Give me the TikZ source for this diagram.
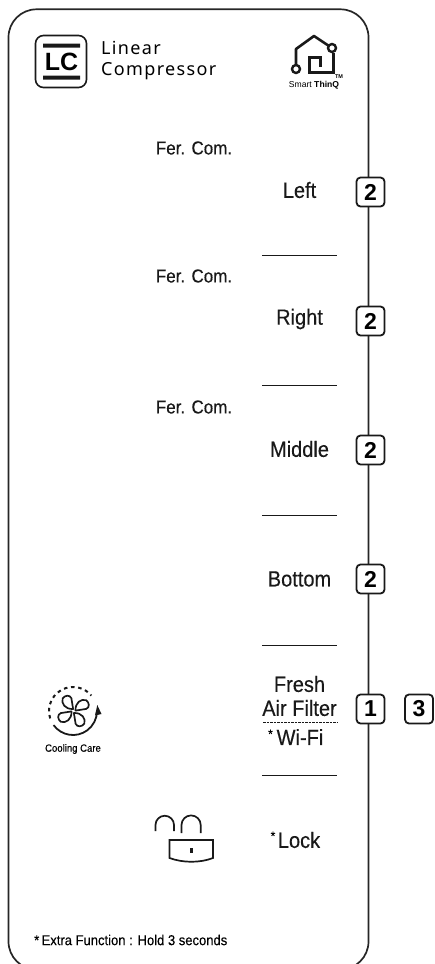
\documentclass[tikz,border=0pt]{standalone}
\usepackage{fontspec}
\setmainfont[FakeStretch=0.91,FakeBold=0.3]{Liberation Sans}
\newfontfamily\spaced[LetterSpace=7.5]{Noto Sans}
\newfontfamily\plain{Liberation Sans}
\tikzset{x=1pt,y=-1pt,
 ic/.style={line width=1.7pt,black!90},
 lab/.style={inner sep=0pt,text=black!90,font=\fontsize{22}{24}\selectfont},
 fer/.style={lab,font=\fontsize{18.7}{20}\selectfont},
 star/.style={inner sep=0pt,font=\fontsize{13}{13}\selectfont},
 numbox/.style={draw=black!90,line width=1.8pt,fill=white,rounded corners=4pt,minimum width=28pt,minimum height=29pt,inner sep=0pt,font=\plain\fontsize{23}{24}\selectfont\bfseries},
 sep/.style={line width=0.8pt,black!90}}
\begin{document}
\begin{tikzpicture}
\useasboundingbox (0,0) rectangle (434,964);
\clip (0,0) rectangle (434,964);
\draw[line width=1.7pt,black!85,rounded corners=28pt] (8.5,100) -- (8.5,9.3) -- (368.5,9.3) -- (368.5,969.5) -- (8.5,969.5) -- cycle;
% Header: LC
\node[draw=black!90,line width=1.6pt,rounded corners=8pt,minimum width=51pt,minimum height=52pt,inner sep=0pt] (lcbox) at (61,61.5) {};
\fill[black!90] (43,43.5) rectangle (80,47.5) (43,75.5) rectangle (80,79.5);
\node[inner sep=0pt,font=\plain\fontsize{25}{25}\selectfont\bfseries] (lc) at (61.5,61.5) {LC};
\node[anchor=west,inner sep=0pt,font=\spaced\fontsize{18}{18}\selectfont] (linear) at (101,48) {Linear};
\node[anchor=west,inner sep=0pt,font=\spaced\fontsize{18}{18}\selectfont] (compressor) at (101,71) {Compressor};
% ThinQ
\draw[line width=2.6pt,black!90,line join=round] (296,65) -- (296,49) -- (314,36) -- (329,46);
\draw[line width=3pt,black!90,line join=miter] (333,53) -- (333,72) -- (309,72) -- (309,57) -- (320,57) -- (320,67);
\draw[line width=2.4pt,black!90] (296,69) circle (4pt) (332,48) circle (4pt);
\node[inner sep=0pt,font=\plain\fontsize{8.6}{9}\selectfont] (thinq) at (314,85) {Smart \textbf{ThinQ}};
\node[inner sep=0pt,font=\plain\fontsize{5.5}{6}\selectfont\bfseries] (tm) at (339,77) {TM};
% Labels
\node[fer] (fc1) at (194,148) {Fer. Com.};
\node[fer] (fc2) at (194,276) {Fer. Com.};
\node[fer] (fc3) at (194,407) {Fer. Com.};
\node[lab] (left) at (299.5,190) {Left};
\node[lab] (right) at (299.5,319) {Right};
\node[lab] (middle) at (299.5,449) {Middle};
\node[lab] (bottom) at (299.5,579) {Bottom};
\node[lab] (fresh) at (299.5,684) {Fresh};
\node[lab] (air) at (299.5,708) {Air Filter};
\node[lab] (wifi) at (300,737) {Wi-Fi};
\node[star] (wifistar) at (270.5,734) {*};
\node[lab] (lock) at (299,840) {Lock};
\node[star] (lockstar) at (273,836) {*};
% dividers
\foreach \yy in {255.5,385,515,645,775} \draw[sep] (262,\yy) -- (337,\yy);
\draw[sep,dash pattern=on 2.5pt off 1pt] (263,722) -- (337,722);
% number boxes
\node[numbox] (n1) at (370.5,192) {2};
\node[numbox] (n2) at (370.5,321) {2};
\node[numbox] (n3) at (370.5,450) {2};
\node[numbox] (n4) at (370.5,579) {2};
\node[numbox] (n5) at (370.5,709) {1};
\node[numbox] (n6) at (419,709) {3};
% Cooling care
\begin{scope}[shift={(73,711)},y=1pt]
\draw[line width=2pt,black!90,dash pattern=on 3.5pt off 3.7pt] (198:24) arc (198:40:24);
\draw[line width=1.8pt,black!90] (216:24) arc (216:360:24) ;
\end{scope}
\fill[black!90] (95,715.5) -- (101.5,714) -- (97.3,705) -- cycle;
\begin{scope}[shift={(73.5,711)}]
\foreach \a in {25,115,205,295}
 \draw[line width=1.7pt,black!90,rotate=\a,line join=round] (2,0.5) .. controls (5,-7) and (12,-8) .. (16,-4.5) .. controls (18,-1) and (16.5,3.5) .. (12.5,3.5) -- cycle;
\end{scope}
\node[inner sep=0pt,font=\fontsize{10.5}{12}\selectfont] (cool) at (73,749) {Cooling Care};
% Lock
\begin{scope}[shift={(0,825)},y=1pt]
\draw[ic] (155.5,-6) -- (155.5,0) arc (180:0:9.25) -- (174,-6);
\draw[ic] (181.5,-8) -- (181.5,0) arc (180:0:9.6) -- (200.7,-8);
\end{scope}
\draw[ic,line join=miter] (169.5,840) -- (213,840) -- (213,858) .. controls (200,863) and (183,863) .. (169.5,858) -- cycle;
\fill[black!90] (189.5,848) rectangle (192.5,853);
% Footer
\node[anchor=west,inner sep=0pt,font=\fontsize{14.3}{15}\selectfont] (footer) at (34,940) {*\,Extra Function : Hold 3 seconds};
\end{tikzpicture}
\end{document}
